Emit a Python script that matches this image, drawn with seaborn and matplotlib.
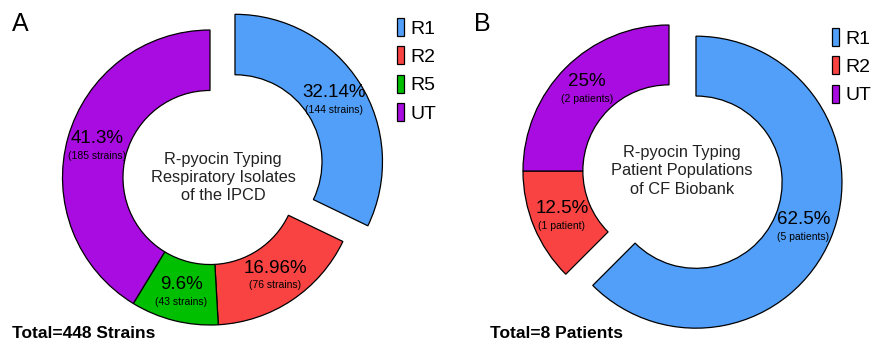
import numpy as np
import matplotlib
matplotlib.use("Agg")
import matplotlib.pyplot as plt
import seaborn as sns

# data
labels_a = ["R1", "R2", "R5", "UT"]
counts_a = [144, 76, 43, 185]
pct_a = ["32.14%", "16.96%", "9.6%", "41.3%"]
notes_a = ["(144 strains)", "(76 strains)", "(43 strains)", "(185 strains)"]

labels_b = ["R1", "R2", "UT"]
counts_b = [5, 1, 2]
pct_b = ["62.5%", "12.5%", "25%"]
notes_b = ["(5 patients)", "(1 patient)", "(2 patients)"]

palette = {"R1": "#529FFA", "R2": "#F94343", "R5": "#00BE00", "UT": "#A90CE0"}

sns.set_theme(style="white")
plt.rcParams["font.family"] = ["Liberation Sans", "DejaVu Sans"]
plt.rcParams["text.color"] = "black"

W, H = 875, 342
fig = plt.figure(figsize=(W / 100, H / 100), dpi=100)

L = 1.4  # half-range of axes in data units


def make_ax(cx, cy, r):
    # cx, cy in pixels from top-left, r = outer radius in pixels
    size = 2 * L * r
    ax = fig.add_axes([(cx - size / 2) / W, (H - cy - size / 2) / H, size / W, size / H])
    return ax


def donut(ax, labels, counts, pcts, notes, center_text):
    explode = [0.2] + [0] * (len(counts) - 1)
    wedges, _ = ax.pie(counts, colors=[palette[k] for k in labels], startangle=90,
                       counterclock=False, explode=explode,
                       wedgeprops=dict(width=0.41, edgecolor="black", linewidth=0.9))
    ax.set_xlim(-L, L)
    ax.set_ylim(-L, L)
    ax.set_aspect("equal")
    ax.axis("off")
    for w, p, n in zip(wedges, pcts, notes):
        ang = np.deg2rad((w.theta1 + w.theta2) / 2)
        cx, cy = w.center
        rr = 0.795
        x, y = cx + rr * np.cos(ang), cy + rr * np.sin(ang)
        ax.annotate(p, (x, y), xytext=(0, 5), textcoords="offset points",
                    ha="center", va="center", fontsize=13.5, color="black")
        ax.annotate(n, (x, y), xytext=(0, -7.5), textcoords="offset points",
                    ha="center", va="center", fontsize=7.5, color="black")
    ax.text(0.09, 0, center_text, ha="center", va="center", fontsize=11.8,
            color="#222222", linespacing=1.25)
    return wedges


ax_a = make_ax(210, 177.5, 147.5)
wa = donut(ax_a, labels_a, counts_a, pct_a, notes_a,
           "R-pyocin Typing\nRespiratory Isolates\nof the IPCD")

ax_b = make_ax(669, 171, 146)
wb = donut(ax_b, labels_b, counts_b, pct_b, notes_b,
           "R-pyocin Typing\nPatient Populations\nof CF Biobank")

leg_kw = dict(frameon=False, fontsize=14, handlelength=0.36, handleheight=1.05,
              handletextpad=0.35, labelspacing=0.45, borderpad=0, borderaxespad=0,
              loc="upper left")
fig.legend(wa, labels_a, bbox_to_anchor=(397 / W, 1 - 18 / H), **leg_kw)
fig.legend(wb, labels_b, bbox_to_anchor=(832 / W, 1 - 28 / H), **leg_kw)

fig.text(12 / W, 1 - 24 / H, "A", fontsize=18, ha="left", va="center")
fig.text(474 / W, 1 - 24 / H, "B", fontsize=18, ha="left", va="center")
fig.text(12 / W, 1 - 333 / H, "Total=448 Strains", fontsize=12.5, fontweight="bold",
         ha="left", va="center")
fig.text(490 / W, 1 - 333 / H, "Total=8 Patients", fontsize=12.5, fontweight="bold",
         ha="left", va="center")

fig.savefig("out.png", dpi=100)
